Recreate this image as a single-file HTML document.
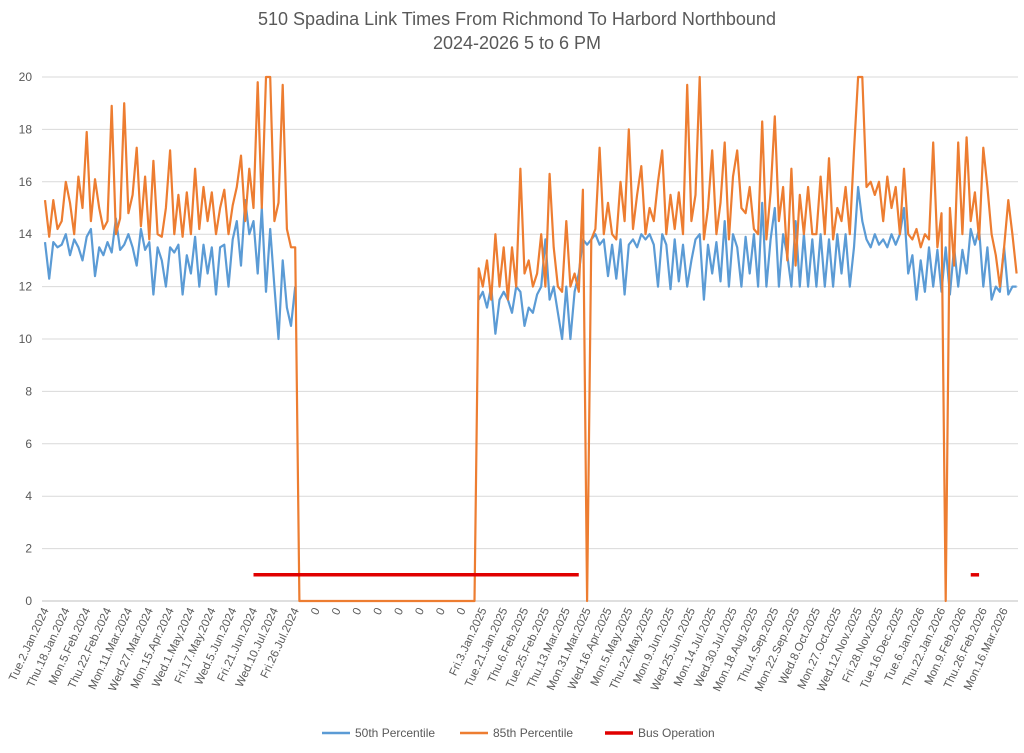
<!DOCTYPE html>
<html><head><meta charset="utf-8"><style>
html,body{margin:0;padding:0;background:#fff;}
svg{display:block;font-family:"Liberation Sans",sans-serif;}
</style></head><body>
<svg id="chart" width="1024" height="753" viewBox="0 0 1024 753" xmlns="http://www.w3.org/2000/svg">
<text x="517" y="25" text-anchor="middle" font-size="18" fill="#595959">510 Spadina Link Times From Richmond To Harbord Northbound</text>
<text x="517" y="49" text-anchor="middle" font-size="18" fill="#595959">2024-2026 5 to 6 PM</text>
<g id="grid"></g>
<g id="yaxis"></g>
<g id="xaxis"></g>
<g id="series"></g>
<g>
<g><line x1="322" y1="733" x2="350" y2="733" stroke="#5b9bd5" stroke-width="2.5"/><text x="355" y="737" font-size="12" fill="#595959">50th Percentile</text></g>
<g><line x1="460" y1="733" x2="488" y2="733" stroke="#ed7d31" stroke-width="2.5"/><text x="493" y="737" font-size="12" fill="#595959">85th Percentile</text></g>
<g><line x1="605" y1="733" x2="633" y2="733" stroke="#e00000" stroke-width="3.5"/><text x="638" y="737" font-size="12" fill="#595959">Bus Operation</text></g>
</g>
</svg>
<script>
const xLabels = ["Tue.2.Jan.2024","Thu.18.Jan.2024","Mon.5.Feb.2024","Thu.22.Feb.2024","Mon.11.Mar.2024","Wed.27.Mar.2024","Mon.15.Apr.2024","Wed.1.May.2024","Fri.17.May.2024","Wed.5.Jun.2024","Fri.21.Jun.2024","Wed.10.Jul.2024","Fri.26.Jul.2024","0","0","0","0","0","0","0","0","Fri.3.Jan.2025","Tue.21.Jan.2025","Thu.6.Feb.2025","Tue.25.Feb.2025","Thu.13.Mar.2025","Mon.31.Mar.2025","Wed.16.Apr.2025","Mon.5.May.2025","Thu.22.May.2025","Mon.9.Jun.2025","Wed.25.Jun.2025","Mon.14.Jul.2025","Wed.30.Jul.2025","Mon.18.Aug.2025","Thu.4.Sep.2025","Mon.22.Sep.2025","Wed.8.Oct.2025","Mon.27.Oct.2025","Wed.12.Nov.2025","Fri.28.Nov.2025","Tue.16.Dec.2025","Tue.6.Jan.2026","Thu.22.Jan.2026","Mon.9.Feb.2026","Thu.26.Feb.2026","Mon.16.Mar.2026"];
const yTicks = [0,2,4,6,8,10,12,14,16,18,20];
const p85seg1 = [15.3,13.9,15.3,14.2,14.5,16.0,15.2,14.0,16.2,15.0,17.9,14.5,16.1,15.0,14.2,14.5,18.9,14.0,14.6,19.0,14.8,15.5,17.3,14.3,16.2,13.8,16.8,14.0,13.9,15.0,17.2,14.0,15.5,13.9,15.6,14.0,16.5,14.2,15.8,14.5,15.6,14.0,15.0,15.7,14.0,15.1,15.8,17.0,14.5,16.5,15.0,19.8,15.0,20,20,14.5,15.2,19.7,14.2,13.5,13.5];
const p85gap = [0,0,0,0,0,0,0,0,0,0,0,0,0,0,0,0,0,0,0,0,0,0,0,0,0,0,0,0,0,0,0,0,0,0,0,0,0,0,0,0,0,0,0];
const p85seg2 = [12.7,12.0,13.0,11.5,14.0,12.0,13.5,11.5,13.5,12.0,16.5,12.5,13.0,12.0,12.5,14.0,12.0,16.3,13.5,12.0,11.8,14.5,12.0,12.5,11.8,15.7,0];
const p85seg3 = [13.8,14.2,17.3,14.0,15.2,14.0,13.8,16.0,14.5,18.0,14.2,15.5,16.6,14.0,15.0,14.5,16.0,17.2,14.0,15.5,14.2,15.6,14.0,19.7,14.5,15.5,20,13.8,15.0,17.2,14.0,15.2,17.5,13.8,16.2,17.2,15.0,14.8,15.8,14.2,14.0,18.3,13.8,15.6,18.5,14.5,15.8,13.0,16.5,12.8,15.5,14.0,15.8,14.0,14.0,16.2,14.0,16.9,13.8,15.0,14.5,15.8,14.0,17.2,20,20,15.8,16.0,15.5,16.0,14.5,16.2,15.0,15.8,14.0,16.5,14.0,13.8,14.2,13.5,14.0,13.8,17.5,13.5,14.8,0,15.0,12.8,17.5,14.0,17.7,14.5,15.6,13.8,17.3,15.8,14.0,13.2,12.0,13.5,15.3,14.0,12.5];
const p50seg1 = [13.7,12.3,13.7,13.5,13.6,14.0,13.2,13.8,13.5,13.0,13.9,14.2,12.4,13.5,13.2,13.7,13.3,14.6,13.4,13.6,14.0,13.5,12.8,14.2,13.4,13.7,11.7,13.5,13.0,12.0,13.5,13.3,13.6,11.7,13.2,12.5,13.9,12.0,13.6,12.5,13.5,11.7,13.5,13.6,12.0,13.8,14.5,12.8,15.3,14.0,14.5,12.5,15.0,11.8,14.2,12.0,10.0,13.0,11.2,10.5,12.0];
const p50gap = [null,null,null,null,null,null,null,null,null,null,null,null,null,null,null,null,null,null,null,null,null,null,null,null,null,null,null,null,null,null,null,null,null,null,null,null,null,null,null,null,null,null,null];
const p50seg2 = [11.5,11.8,11.2,12.0,10.2,11.5,11.8,11.5,11.0,12.0,11.8,10.5,11.2,11.0,11.7,12.0,13.8,11.5,12.0,11.0,10.0,12.0,10.0,11.8,12.5,13.8,13.6];
const p50seg3 = [13.8,14.0,13.6,13.8,12.4,13.6,12.3,13.8,11.7,13.6,13.8,13.5,14.0,13.8,14.0,13.6,12.0,14.0,13.6,11.9,13.8,12.2,13.6,12.0,13.0,13.8,14.0,11.5,13.6,12.5,13.7,12.2,14.5,12.0,14.0,13.5,12.0,13.9,12.5,14.0,12.0,15.2,12.0,13.8,15.0,12.0,14.0,13.2,12.0,14.5,12.0,14.0,12.0,13.8,12.0,14.0,12.0,13.8,12.0,14.0,12.5,14.0,12.0,13.5,15.8,14.5,13.8,13.5,14.0,13.6,13.8,13.5,14.0,13.6,14.0,15.0,12.5,13.2,11.5,13.0,11.8,13.5,12.0,13.4,11.8,13.5,11.7,13.5,12.0,13.4,12.5,14.2,13.6,14.2,12.0,13.5,11.5,12.0,11.8,13.5,11.7,12.0,12.0];
const busStartIdx = [50,222];
const busEndIdx = [128,224];
const busLevel = [1,1];

const p85 = p85seg1.concat(p85gap,p85seg2,p85seg3);
const p50 = p50seg1.concat(p50gap,p50seg2,p50seg3);
const X0=45, XSTEP=4.17, Y0=601, YPX=26.2;
const xs = i => X0 + i*XSTEP;
const ys = v => Y0 - v*YPX;
const NS="http://www.w3.org/2000/svg";
function mk(tag, attrs, parent){const e=document.createElementNS(NS,tag);for(const k in attrs)e.setAttribute(k,attrs[k]);parent.appendChild(e);return e;}
const grid=document.getElementById('grid'), yax=document.getElementById('yaxis'), xax=document.getElementById('xaxis'), ser=document.getElementById('series');
yTicks.forEach(t=>{
  const l=mk('line',{x1:42,x2:1018,y1:ys(t),y2:ys(t),stroke:t===0?'#bfbfbf':'#d9d9d9','stroke-width':1},grid);
  
  
  const tx=mk('text',{x:32,y:ys(t)+4,'text-anchor':'end','font-size':12,fill:'#595959'},yax);
  tx.textContent=t;
  
  
});
xLabels.forEach((lab,k)=>{
  const x=xs(k*5)+4, y=610;
  const tx=mk('text',{x:x,y:y,'text-anchor':'end','font-size':11.5,fill:'#595959',transform:`rotate(-65 ${x} ${y})`},xax);
  tx.textContent=lab;
  
  
});
function path(arr,color,w,name){
  let d='',pen=false;
  arr.forEach((v,i)=>{ if(v===null||v===undefined){pen=false;return;} d+=(pen?'L':'M')+xs(i).toFixed(1)+' '+ys(Math.min(v,20)).toFixed(1); pen=true;});
  const p=mk('path',{d:d,fill:'none',stroke:color,'stroke-width':w,'stroke-linejoin':'round'},ser);
  
  
}
path(p50,'#5b9bd5',2.2,'series-50th-percentile');
path(p85,'#ed7d31',2.2,'series-85th-percentile');
busStartIdx.forEach((s,k)=>{
  const l=mk('line',{x1:xs(s),x2:xs(busEndIdx[k]),y1:ys(busLevel[k]),y2:ys(busLevel[k]),stroke:'#e00000','stroke-width':3.5},ser);
  
  
});
</script>
</body></html>
